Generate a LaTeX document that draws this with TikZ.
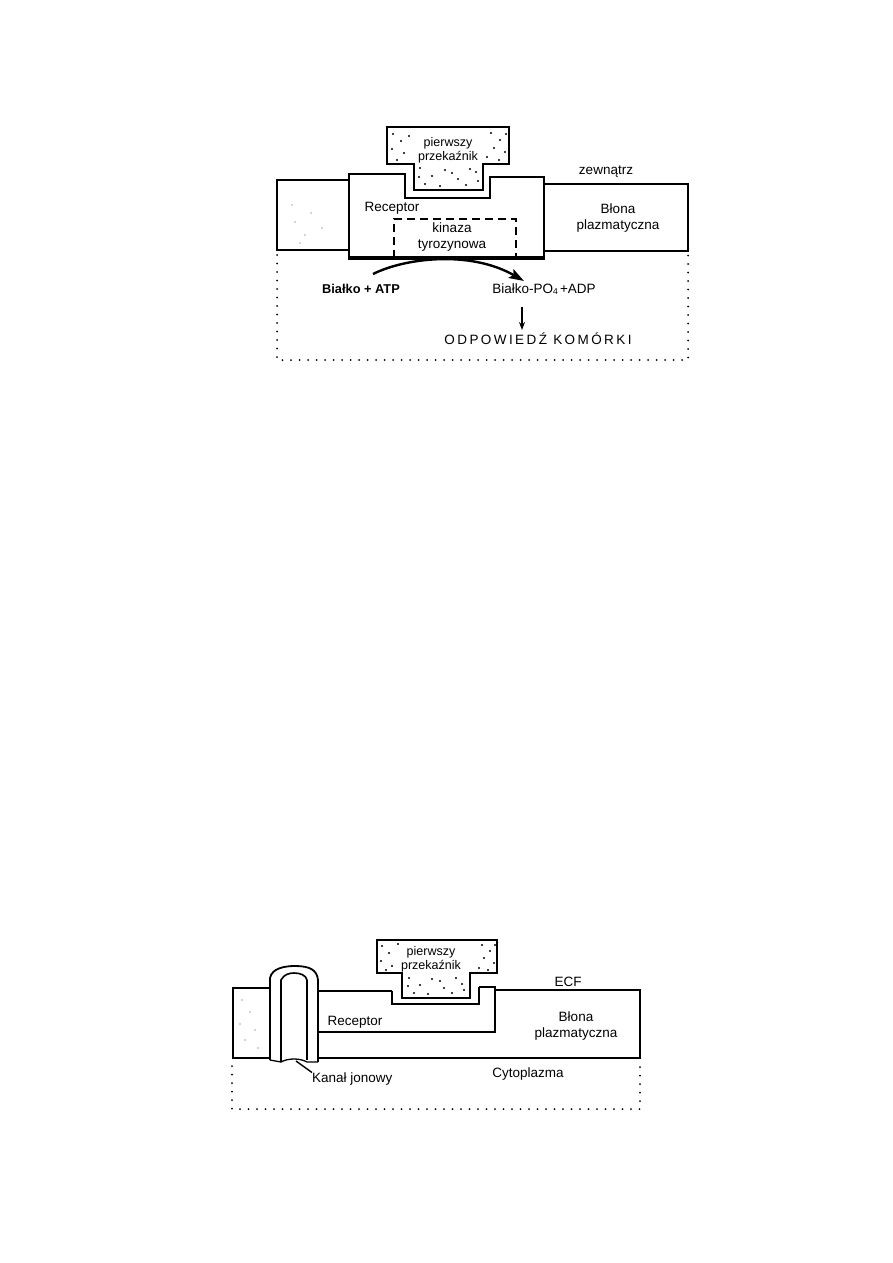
\documentclass[tikz,border=0pt]{standalone}
\usepackage{fontspec}
\setmainfont{Liberation Sans}
\usetikzlibrary{arrows.meta}
\begin{document}
\begin{tikzpicture}[x=1pt,y=-1pt,
  thinln/.style={line width=1.3pt},
  thickln/.style={line width=2.6pt},
  dottedbox/.style={line width=2pt, line cap=round, dash pattern=on 0pt off 8.5pt},
  dashbox/.style={line width=2pt, dash pattern=on 8pt off 5pt},
  lbl/.style={font=\fontsize{13.5}{15}\selectfont, inner sep=0pt, align=center},
  mlbl/.style={font=\fontsize{12.5}{14}\selectfont, inner sep=0pt, align=center},
  dot/.style={circle, fill=black, inner sep=0pt, minimum size=2.2pt},
  fdot/.style={circle, fill=black!35, inner sep=0pt, minimum size=1.6pt}]
\useasboundingbox (0,0) rectangle (893,1263);
\fill[white] (0,0) rectangle (893,1263);

% ================= TOP DIAGRAM =================
% left membrane block
\draw[thickln] (349,180) -- (277,180) -- (277,250) -- (349,250);
\foreach \p in {(292,205),(311,213),(295,222),(305,235),(322,228),(300,243)} \node[fdot] at \p {};
% right membrane block
\draw[thinln] (544,184) -- (688,184) -- (688,251) -- (544,251);
% receptor
\draw[thickln, line join=miter] (349,258) -- (349,174) -- (405,174) -- (405,198) -- (490,198) -- (490,177) -- (544,177) -- (544,258);
\draw[line width=3.6pt] (347.7,258) -- (545.3,258);
% messenger
\draw[line width=1.8pt] (387,127) -- (509,127) -- (509,164) -- (483,164) -- (483,190) -- (414,190) -- (414,164) -- (387,164) -- cycle;
\foreach \p in {(393,134),(401,141),(392,149),(404,153),(397,160),(409,136),(491,133),(500,140),(494,148),(505,152),(487,157),(499,160),(506,134),(420,168),(432,176),(445,170),(458,179),(470,169),(478,181),(425,184),(440,186),(452,173),(466,185),(419,177),(476,172)}
  \node[dot] at \p {};
% kinase dashed box
\draw[dashbox] (394,258) -- (394,219) -- (516,219) -- (516,258);
% cytoplasm dotted box
\draw[dottedbox] (277,255) -- (277,360) -- (688,360) -- (688,255);

\node[mlbl] (m1) at (448,150) {pierwszy\\przekaźnik};
\node[lbl] (zew) at (606,172) {zewnątrz};
\node[lbl] (rec1) at (392,208) {Receptor};
\node[lbl] (kin) at (452,237) {kinaza\\[1pt]tyrozynowa};
\node[lbl] (blona1) at (618,218) {Błona\\[1pt]plazmatyczna};
\node[lbl, font=\fontsize{12.8}{14}\selectfont\bfseries] (bat) at (361,289) {Białko + ATP};
\node[lbl] (bpo) at (544,289) {Białko-PO{\fontsize{8.5}{8}\selectfont\raisebox{-1.5pt}{4}}\,+ADP};
\node[lbl, font=\fontsize{13.5}{15}\selectfont\addfontfeature{LetterSpace=18}] (odp) at (538,339) {ODPOWIEDŹ KOMÓRKI};

\coordinate (cs) at (373,274);
\coordinate (ce) at (524,281);
\draw[line width=2.4pt, -{Stealth[length=15pt,width=10pt,inset=3pt]}] (cs) .. controls (405,258) and (470,250) .. (ce);
\coordinate (a1) at (522,307);
\coordinate (a2) at (522,330);
\draw[line width=1.3pt, -{Stealth[length=8pt,width=6pt]}] (a1) -- (a2);

% ================= BOTTOM DIAGRAM =================
% left block
\draw[line width=1.8pt] (270,988) -- (233,988) -- (233,1058) -- (270,1058);
\foreach \p in {(242,1000),(250,1012),(240,1024),(255,1030),(245,1040),(258,1048)} \node[fdot] at \p {};
% membrane lines
\draw[thinln] (318,991) -- (392,991);
\draw[thinln] (495,990) -- (640,990) -- (640,1058) -- (318,1058);
% receptor (bottom)
\draw[thinln, line join=miter] (392,991) -- (392,1004) -- (479,1004) -- (479,987);
\draw[thickln, line join=miter] (479,987) -- (495,987) -- (495,1032) -- (318,1032);
% ion channel
\draw[line width=1.8pt] (270,1060) -- (270,978) .. controls (272,968) and (285,966) .. (295,966) .. controls (310,966) and (317,970) .. (318,980) -- (318,991);
\draw[line width=1.6pt] (281,1062) -- (281,980) .. controls (284,974) and (290,973) .. (294,973) .. controls (300,973) and (306,975) .. (307,980);
\draw[thickln] (307,980) -- (307,1060);
\draw[thinln] (318,991) -- (318,1062);
\draw[thinln] (270,1060) -- (281,1062) .. controls (288,1058) and (300,1058) .. (307,1062) -- (318,1062);
% messenger (bottom)
\draw[line width=1.8pt] (377,940) -- (497,940) -- (497,973) -- (470,973) -- (470,998) -- (402,998) -- (402,973) -- (377,973) -- cycle;
\foreach \p in {(382,946),(389,953),(381,961),(392,966),(386,970),(398,944),(482,945),(490,951),(484,958),(494,963),(479,968),(488,970),(495,945),(409,978),(420,985),(432,979),(444,988),(456,978),(464,990),(414,993),(428,994),(440,981),(452,993),(462,984),(408,986)}
  \node[dot] at \p {};
% dotted cytoplasm box
\draw[dottedbox] (232,1066) -- (232,1109) -- (640,1109) -- (640,1066);

\node[mlbl] (m2) at (431,959) {pierwszy\\przekaźnik};
\node[lbl] (ecf) at (568,982) {ECF};
\node[lbl] (rec2) at (355,1022) {Receptor};
\node[lbl] (blona2) at (576,1026) {Błona\\[1pt]plazmatyczna};
\node[lbl] (cyt) at (528,1074) {Cytoplazma};
\node[lbl, anchor=west] (kan) at (312,1079) {Kanał jonowy};
\coordinate (kp) at (296,1061);
\draw[line width=1.4pt] (kp) -- (kan.north west);
\end{tikzpicture}
\end{document}
